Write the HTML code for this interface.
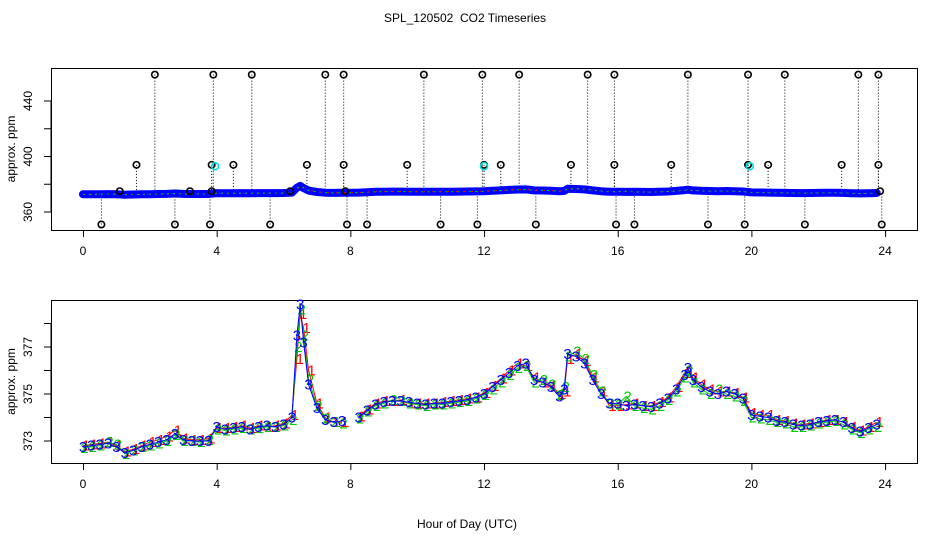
<!DOCTYPE html>
<html><head><meta charset="utf-8"><style>
body{margin:0;background:#fff;}
svg{display:block;font-family:"Liberation Sans",sans-serif;}
</style></head><body>
<svg id="chart" width="936" height="540" viewBox="0 0 936 540"></svg>
<script>
// ---- data ----
const hours = [0,0.25,0.5,0.75,1,1.25,1.5,1.75,2,2.25,2.5,2.75,3,3.25,3.5,3.75,4,4.25,4.5,4.75,5,5.25,5.5,5.75,6,6.25,6.4,6.5,6.6,6.75,7,7.25,7.5,7.75,8,8.25,8.5,8.75,9,9.25,9.5,9.75,10,10.25,10.5,10.75,11,11.25,11.5,11.75,12,12.25,12.5,12.75,13,13.25,13.5,13.75,14,14.25,14.4,14.5,14.75,15,15.25,15.5,15.75,16,16.25,16.5,16.75,17,17.25,17.5,17.75,18,18.1,18.25,18.5,18.75,19,19.25,19.5,19.75,20,20.25,20.5,20.75,21,21.25,21.5,21.75,22,22.25,22.5,22.75,23,23.25,23.5,23.75];
const seriesBlue  = [372.75,372.8,372.85,372.9,372.75,372.5,372.6,372.75,372.85,372.95,373.05,373.3,373.05,373.0,373.0,373.0,373.6,373.5,373.55,373.6,373.5,373.6,373.65,373.6,373.7,374.0,377.5,378.8,377.2,375.4,374.4,373.9,373.8,373.85,null,374.0,374.3,374.55,374.65,374.7,374.7,374.65,374.6,374.55,374.6,374.6,374.65,374.7,374.75,374.85,375.0,375.3,375.6,375.9,376.2,376.3,375.6,375.5,375.3,374.9,375.2,376.7,376.6,376.3,375.6,375.0,374.6,374.6,374.5,374.55,374.5,374.45,374.6,374.8,375.2,375.8,376.1,375.6,375.3,375.1,375.0,375.1,375.0,374.8,374.1,374.05,374.0,373.85,373.8,373.7,373.65,373.7,373.8,373.85,373.9,373.8,373.55,373.4,373.55,373.7];
const seriesRed   = [372.8,372.85,372.9,372.95,372.8,372.55,372.65,372.8,372.95,373.05,373.2,373.45,373.1,373.05,373.05,373.1,373.55,373.55,373.6,373.65,373.55,373.65,373.6,373.65,373.75,374.1,376.5,378.4,377.8,376.0,374.6,374.0,373.8,373.8,null,374.05,374.35,374.6,374.7,374.7,374.75,374.6,374.6,374.6,374.6,374.65,374.7,374.75,374.8,374.85,375.05,375.35,375.65,376.0,376.3,376.2,375.7,375.5,375.35,375.0,375.1,376.5,376.7,376.4,375.7,375.1,374.5,374.5,374.55,374.6,374.5,374.5,374.65,374.85,375.3,375.9,376.0,375.7,375.4,375.2,375.1,375.1,375.05,374.85,374.2,374.1,374.1,373.9,373.85,373.75,373.7,373.75,373.8,373.9,373.9,373.8,373.6,373.45,373.6,373.8];
const seriesGreen = [372.7,372.75,372.8,372.95,372.85,372.45,372.6,372.75,372.8,372.9,373.0,373.25,373.0,373.0,372.95,373.05,373.5,373.45,373.5,373.55,373.5,373.55,373.6,373.6,373.65,373.9,377.0,378.6,377.5,375.6,374.5,373.95,373.8,373.75,null,373.95,374.25,374.5,374.6,374.75,374.7,374.6,374.55,374.5,374.55,374.55,374.6,374.65,374.7,374.8,374.95,375.2,375.5,375.8,376.1,376.2,375.5,375.6,375.4,374.95,375.3,376.6,376.8,376.5,375.8,375.1,374.6,374.55,374.9,374.5,374.4,374.35,374.5,374.75,375.1,375.7,376.0,375.5,375.2,375.0,375.2,375.0,374.9,374.7,374.0,373.95,373.9,373.8,373.75,373.6,373.6,373.65,373.75,373.8,373.85,373.7,373.5,373.35,373.5,373.6];
const outlierHours  = [2.15,3.9,5.05,7.25,7.8,10.2,11.95,13.05,15.1,15.9,18.1,19.9,21.0,23.2,23.8, 1.6,3.85,4.5,6.7,7.8,9.7,12.0,12.5,14.6,15.9,17.6,19.9,20.5,22.7,23.8, 0.55,2.75,3.8,5.6,7.9,8.5,10.7,11.8,13.55,15.95,16.5,18.7,19.8,21.6,23.9, 1.1,3.2,3.85,6.2,7.85,23.85];
const outlierValues = [459,459,459,459,459,459,459,459,459,459,459,459,459,459,459, 394,394,394,394,394,394,394,394,394,394,394,394,394,394,394, 351,351,351,351,351,351,351,351,351,351,351,351,351,351,351, 375,375,375,375,375,375];
const cyanHours  = [3.95,12.0,19.95];
const cyanValues = [393,393,393];
const xTicks = [0,4,8,12,16,20,24];
const topYTicks = [360,380,400,420,440];
const topYLabels = [360,400,440];
const botYTicks = [373,374,375,376,377,378];
const botYLabels = [373,375,377];

// ---- scales ----
const X0=83, XS=33.42;
const xs = h => X0 + h*XS;
const yT = v => 212 - (v-360)*1.3875;
const yB = v => 441 - (v-373)*23.5;

const NS="http://www.w3.org/2000/svg";
const svg=document.getElementById('chart');
function mk(tag, attrs, parent){const e=document.createElementNS(NS,tag);for(const k in attrs)e.setAttribute(k,attrs[k]);(parent||svg).appendChild(e);return e;}
function txt(s,x,y,attrs,parent){const t=mk('text',Object.assign({x:x,y:y,'font-size':12,'text-anchor':'middle'},attrs||{}),parent);t.textContent=s;return t;}

let t=txt('SPL_120502\u00a0\u00a0CO2 Timeseries',465,22,{});


t=txt('Hour of Day (UTC)',467,528,{});



function panel(name, top, bottom, ys, yTicks, yLabels){
  const g=mk('g',{});
  
  
  const box=mk('rect',{x:51.5,y:top+0.5,width:866,height:bottom-top,fill:'none',stroke:'#000','stroke-width':1},g);
  
  
  const xa=mk('g',{},g);
  
  
  mk('line',{x1:xs(0),x2:xs(24),y1:bottom+0.5,y2:bottom+0.5,stroke:'#000'},xa);
  xTicks.forEach(h=>{
    mk('line',{x1:xs(h)+0.5,x2:xs(h)+0.5,y1:bottom,y2:bottom+7,stroke:'#000'},xa);
    const l=txt(String(h),xs(h),bottom+25,{},xa);
    
    
  });
  const ya=mk('g',{},g);
  
  
  mk('line',{x1:51,x2:51,y1:ys(yTicks[0]),y2:ys(yTicks[yTicks.length-1]),stroke:'#000'},ya);
  yTicks.forEach(v=>{mk('line',{x1:44,x2:51,y1:ys(v),y2:ys(v),stroke:'#000'},ya);});
  yLabels.forEach(v=>{
    const l=txt(String(v),32,ys(v),{transform:`rotate(-90 32 ${ys(v)})`},ya);
    
    
  });
  const yt=txt('approx. ppm',15,(top+bottom)/2,{transform:`rotate(-90 15 ${(top+bottom)/2})`},g);
  
  
  return g;
}

function pathFrom(vals, ys, bridge){let d='',pen=false;vals.forEach((v,i)=>{if(v===null){if(!bridge)pen=false;return;}d+=(pen?'L':'M')+xs(hours[i]).toFixed(1)+','+ys(v).toFixed(1);pen=true;});return d;}

// ---- top panel ----
const gt=panel('top-panel',68,230,yT,topYTicks,topYLabels);
const stems=mk('g',{},gt);


outlierHours.forEach((h,i)=>{
  mk('line',{x1:xs(h),x2:xs(h),y1:yT(outlierValues[i]),y2:yT(373),stroke:'#000','stroke-dasharray':'1,2','stroke-width':1},stems);
});
const band=mk('path',{d:pathFrom(seriesBlue,yT,true),fill:'none',stroke:'#0000ff','stroke-width':8,'stroke-linejoin':'round','stroke-linecap':'round'},gt);


mk('path',{d:pathFrom(seriesGreen,yT,true),fill:'none',stroke:'#00dd00','stroke-width':1,'stroke-dasharray':'2,4'},gt);
mk('path',{d:pathFrom(seriesRed,yT,true),fill:'none',stroke:'#ff0000','stroke-width':1,'stroke-dasharray':'1,7'},gt);
const outs=mk('g',{},gt);


outlierHours.forEach((h,i)=>{
  const c=mk('circle',{cx:xs(h),cy:yT(outlierValues[i]),r:3.2,fill:'none',stroke:'#000','stroke-width':1.6},outs);
  
  
});
cyanHours.forEach((h,i)=>{
  const c=mk('circle',{cx:xs(h),cy:yT(cyanValues[i]),r:3.5,fill:'none',stroke:'#00dddd','stroke-width':1.6},outs);
  
  
});

// ---- bottom panel ----
const gb=panel('bottom-panel',300,463,yB,botYTicks,botYLabels);
function series(vals,color,ch,dx,name){
  const g=mk('g',{},gb);
  
  
  mk('path',{d:pathFrom(vals,yB,false),fill:'none',stroke:color,'stroke-width':1},g);
  vals.forEach((v,i)=>{
    if(v===null) return;
    const m=txt(ch,xs(hours[i])+dx,yB(v)+5,{fill:color,'font-size':15},g);
    
    
  });
}
series(seriesRed,'#ff0000','1',3,'series-1-red');
series(seriesGreen,'#00cc00','2',1.5,'series-2-green');
series(seriesBlue,'#0000ff','3',0,'series-3-blue');
</script>
</body></html>
